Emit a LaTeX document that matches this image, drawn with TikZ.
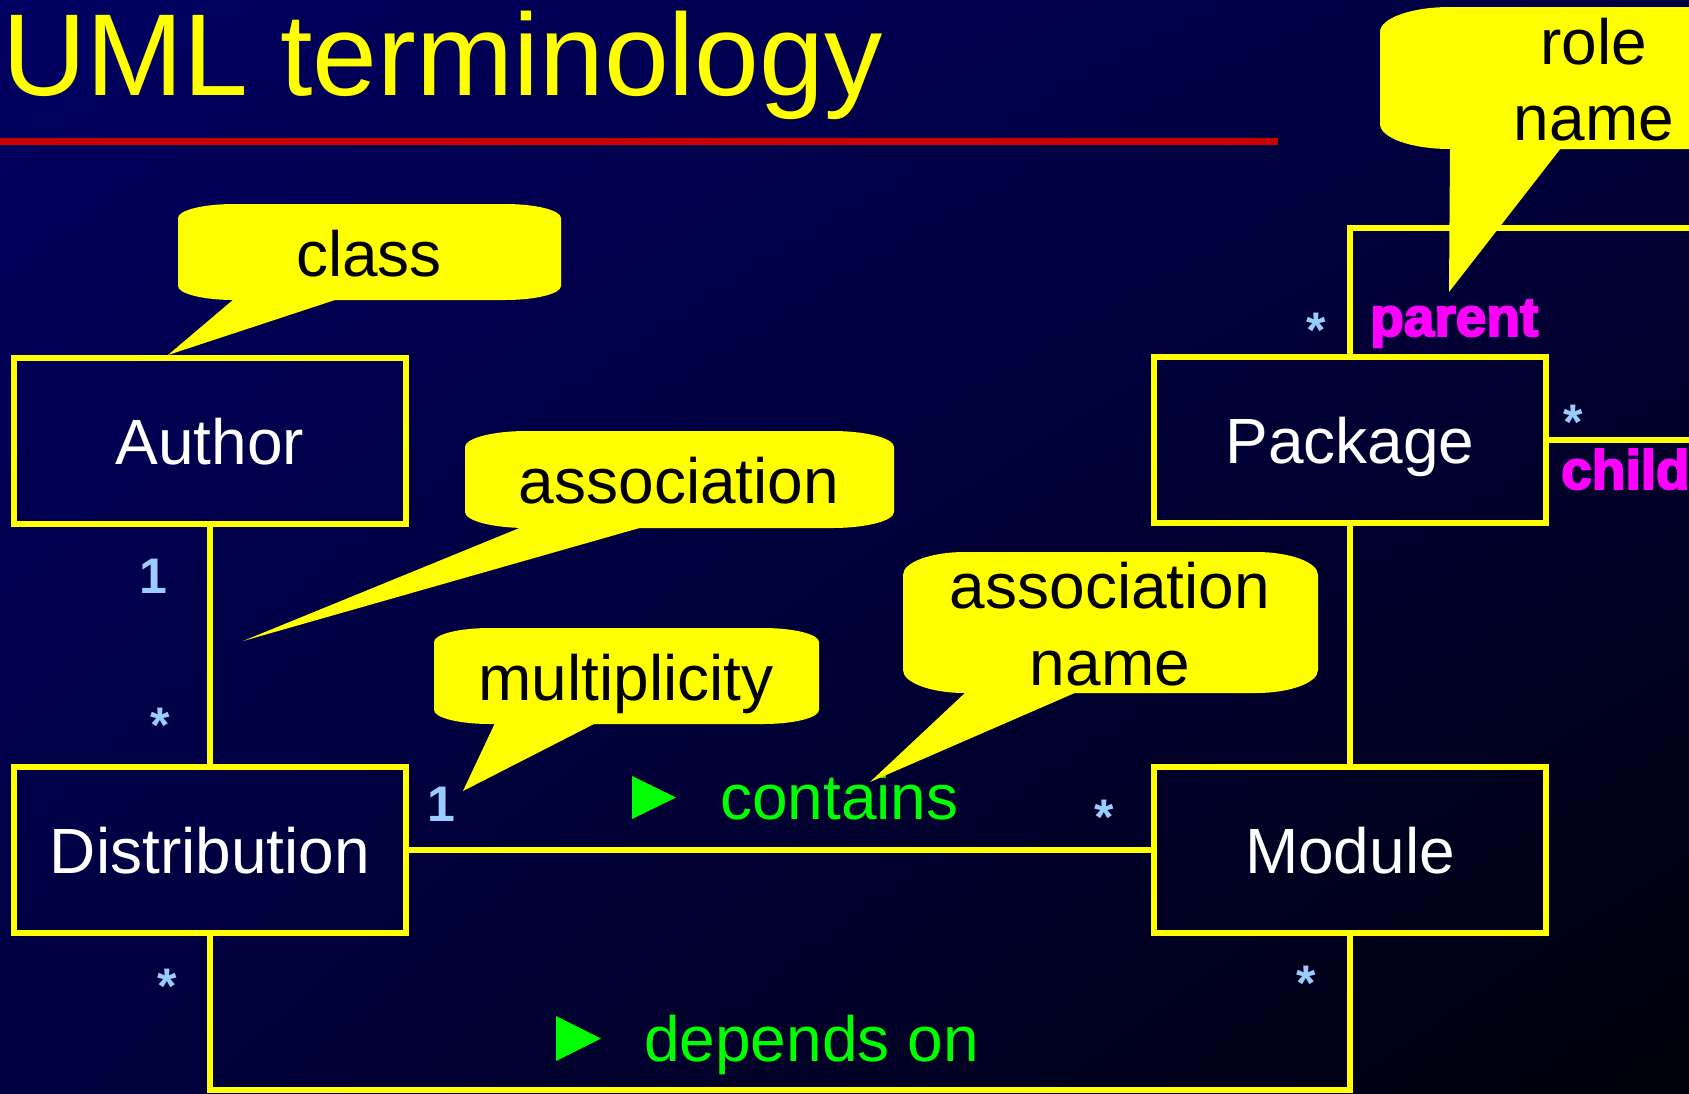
\documentclass[tikz,border=0pt]{standalone}
\usepackage{fontspec}
\usetikzlibrary{shadings}
\setmainfont{Liberation Sans}
\newfontfamily\heavyfont[FakeBold=3.5]{Liberation Sans Bold}

\definecolor{bgUL}{RGB}{0,0,98}
\definecolor{bgUR}{RGB}{0,0,62}
\definecolor{bgLL}{RGB}{0,0,64}
\definecolor{bgLR}{RGB}{0,0,10}
\definecolor{umlyellow}{RGB}{255,255,0}
\definecolor{rulered}{RGB}{204,0,0}
\definecolor{multblue}{RGB}{153,204,255}
\definecolor{rolemagenta}{RGB}{255,0,255}
\definecolor{namegreen}{RGB}{0,255,0}

% speech bubble body with elliptical corners: x1 y1 x2 y2 rx ry
\newcommand\bubble[6]{%
  \fill[umlyellow] (#1+#5,#2) -- (#3-#5,#2)
    .. controls (#3-0.4477*#5,#2) and (#3,#2+0.4477*#6) .. (#3,#2+#6)
    -- (#3,#4-#6)
    .. controls (#3,#4-0.4477*#6) and (#3-0.4477*#5,#4) .. (#3-#5,#4)
    -- (#1+#5,#4)
    .. controls (#1+0.4477*#5,#4) and (#1,#4-0.4477*#6) .. (#1,#4-#6)
    -- (#1,#2+#6)
    .. controls (#1,#2+0.4477*#6) and (#1+0.4477*#5,#2) .. (#1+#5,#2) -- cycle;}

\tikzset{
  classbox/.style={draw=umlyellow, line width=6pt, minimum width=392pt,
    minimum height=166pt, inner sep=0pt, text=white,
    text height=46pt, text depth=0pt,
    font=\fontsize{64}{77}\selectfont},
  assoc/.style={draw=umlyellow, line width=6pt},
  calltext/.style={text=black, inner sep=0pt, anchor=base,
    font=\fontsize{64}{77}\selectfont},
  multlabel/.style={text=multblue, inner sep=0pt, anchor=base,
    font=\fontsize{50}{60}\selectfont\bfseries},
  rolelabel/.style={text=rolemagenta, inner sep=0pt, anchor=base west,
    font=\fontsize{55}{66}\selectfont\heavyfont},
  assocname/.style={text=namegreen, inner sep=0pt, anchor=base west,
    font=\fontsize{64}{77}\selectfont},
}

\begin{document}
\begin{tikzpicture}[x=1pt, y=-1pt]
\useasboundingbox (0,0) rectangle (1689,1093);
\clip (0,0) rectangle (1689,1093);

% background
\shade[upper left=bgUL, upper right=bgUR, lower left=bgLL, lower right=bgLR]
  (0,0) rectangle (1689,1093);

% title and rule
\node[text=umlyellow, inner sep=0pt, anchor=base west,
  font=\fontsize{116.5}{130}\selectfont] (title) at (2,95) {UML terminology};
\fill[rulered] (0,137.5) rectangle (1278,144.5);

% classes
\node[classbox] (author) at (210,441) {Author};
\node[classbox] (dist)   at (210,850) {Distribution};
\node[classbox] (pkg)    at (1350,440) {Package};
\node[classbox] (mod)    at (1350,850) {Module};

% associations
\draw[assoc] (author.south) -- (dist.north);
\draw[assoc] (dist.east) -- (mod.west);
\draw[assoc] (pkg.south) -- (mod.north);
\coordinate (depcorner) at (1350,1090);
\draw[assoc] (dist.south) |- (depcorner) -- (mod.south);
\coordinate (selftop) at (1720,228);
\coordinate (selfright) at (1720,440);
\draw[assoc] (pkg.north) |- (selftop);
\draw[assoc] (pkg.east) -- (selfright);

% multiplicities
\node[multlabel] (m1) at (153,593) {1};
\node[multlabel] (m2) at (160,742) {*};
\node[multlabel] (m3) at (441,821) {1};
\node[multlabel] (m4) at (1104,834) {*};
\node[multlabel] (m5) at (167,1003) {*};
\node[multlabel] (m6) at (1306,1000) {*};
\node[multlabel] (m7) at (1316,347) {*};
\node[multlabel] (m8) at (1573,439) {*};

% role names
\node[rolelabel] (parent) at (1370,336) {parent};
\node[rolelabel] (child)  at (1561,489) {child};

% association names with direction triangles
\fill[namegreen] (632,776) -- (676,797.5) -- (632,819) -- cycle;
\node[assocname] (contains) at (720,819) {contains};
\fill[namegreen] (556,1016) -- (601,1038.5) -- (556,1061) -- cycle;
\node[assocname] (depends) at (644,1061) {depends on};

% callouts
\bubble{178}{204}{561}{300}{56}{14}
\fill[umlyellow] (234,299) -- (338,299) -- (168,355) -- cycle;
\node[calltext] (cclass) at (369,276) {class};

\bubble{465}{431}{894}{528}{62}{16}
\fill[umlyellow] (522,527) -- (643,527) -- (243,641) -- cycle;
\node[calltext] (cassoc) at (679,503) {association};

\bubble{434}{628}{819}{724}{56}{14}
\fill[umlyellow] (495,723) -- (596,723) -- (463,791) -- cycle;
\node[calltext] (cmult) at (626,700) {multiplicity};

\bubble{903}{552}{1318}{693}{62}{23}
\fill[umlyellow] (966,692) -- (1077,692) -- (870,782) -- cycle;
\node[calltext] (cname1) at (1110,608) {association};
\node[calltext] (cname2) at (1110,685) {name};

\bubble{1380}{7}{1780}{149}{70}{25}
\fill[umlyellow] (1450,148) -- (1561,148) -- (1449,292) -- cycle;
\node[calltext] (crole1) at (1594,64) {role};
\node[calltext] (crole2) at (1594,140) {name};
\end{tikzpicture}
\end{document}
